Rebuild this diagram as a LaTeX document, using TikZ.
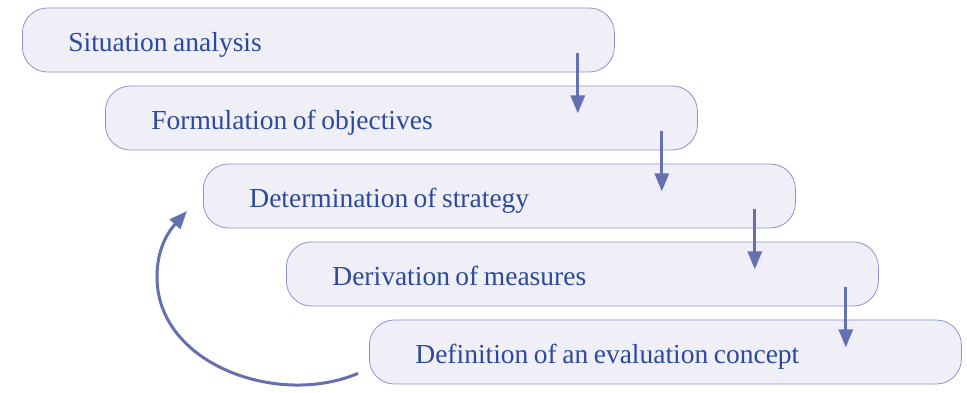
\documentclass[tikz,border=0pt]{standalone}
\usepackage{fontspec}
\setmainfont{Liberation Serif}
\usetikzlibrary{arrows.meta}
\definecolor{boxfill}{HTML}{F0EFF7}
\definecolor{boxline}{HTML}{8A93CC}
\definecolor{boxtext}{HTML}{2B4A9B}
\definecolor{arrowcol}{HTML}{6570B0}

\begin{document}
\begin{tikzpicture}[
  x=1pt,y=1pt,
  stage/.style={
    draw=boxline, fill=boxfill, line width=0.8pt,
    rounded corners=25pt, anchor=west,
    minimum height=64pt, inner xsep=46pt, inner ysep=0pt,
    text width=500pt, align=left, text=boxtext,
    text height=26pt, text depth=2pt,
    font=\fontsize{27.5}{33}\selectfont,
    execute at begin node={\spaceskip=0.2em plus 0.05em\relax}
  },
  flow/.style={
    draw=arrowcol, line width=3pt,
    -{Triangle[length=18pt,width=14pt]}
  }
]
\useasboundingbox (0,0) rectangle (967,393);

\node[stage] (b1) at (22,353) {Situation analysis};
\node[stage] (b2) at (105,275) {Formulation of objectives};
\node[stage] (b3) at (203,197) {Determination of strategy};
\node[stage] (b4) at (286,119) {Derivation of measures};
\node[stage] (b5) at (369,41) {Definition of an evaluation concept};

\draw[flow] ([xshift=-37pt,yshift=19pt]b1.south east) -- ++(0,-60);
\draw[flow] ([xshift=-36pt,yshift=19pt]b2.south east) -- ++(0,-60);
\draw[flow] ([xshift=-41pt,yshift=19pt]b3.south east) -- ++(0,-60);
\draw[flow] ([xshift=-33pt,yshift=19pt]b4.south east) -- ++(0,-60);

% back to the strategy
\coordinate (back) at ([xshift=-11pt,yshift=11pt]b5.south west);
\coordinate (left) at (157,116);
\coordinate (tip) at ([xshift=-16pt,yshift=-15pt]b3.west);
\draw[flow]
(back) to[out=203,in=-90]
(left) to[out=90,in=228] (tip);
\end{tikzpicture}
\end{document}
